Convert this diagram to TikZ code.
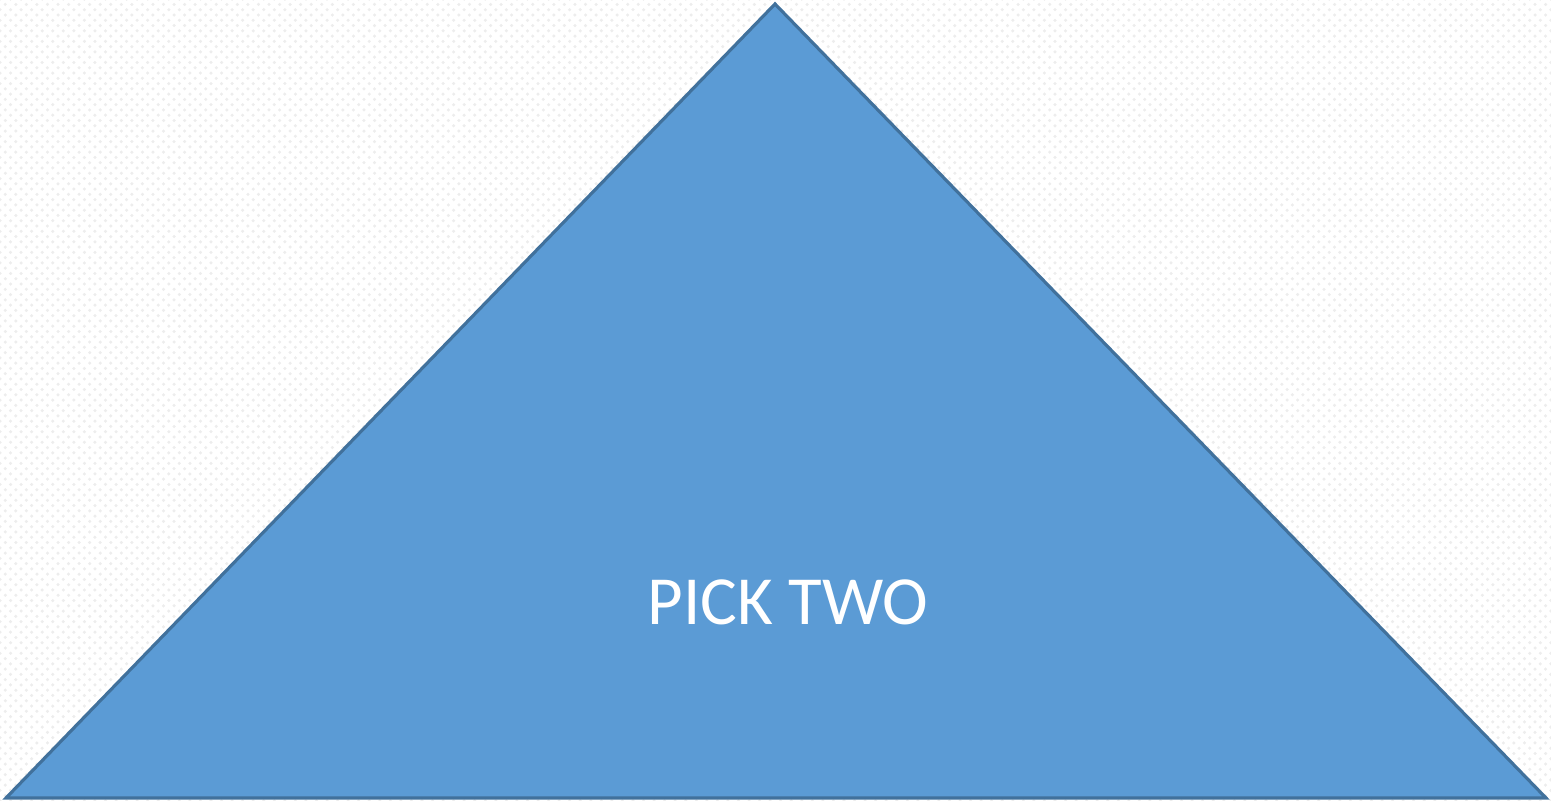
\documentclass[tikz,border=0pt]{standalone}
\usepackage{fontspec}
\setmainfont{Carlito}
\usetikzlibrary{patterns}
\definecolor{skyblue}{HTML}{5B9BD5}
\definecolor{skyedge}{HTML}{41719C}
\definecolor{dotg}{HTML}{EDEDED}
\tikzset{
  pyramid/.style={fill=skyblue, draw=skyedge, line width=0.9pt, line join=miter},
  caption/.style={text=white, font=\fontsize{19.6}{23}\selectfont, inner sep=0pt},
}
\begin{document}
\begin{tikzpicture}[x=0.01cm, y=0.01cm]
  % background
  \useasboundingbox (0,0) rectangle (1551,801);
  \fill[pattern=crosshatch dots, pattern color=dotg] (0,0) rectangle (1551,801);

  \coordinate (apex) at (775,797);
  \coordinate (bl) at (6,3);
  \coordinate (br) at (1546,3);
  \draw[pyramid] (bl) -- (apex) -- (br) -- cycle;

  \node[caption] (pick) at (788,199) {PICK TWO};
\end{tikzpicture}
\end{document}
